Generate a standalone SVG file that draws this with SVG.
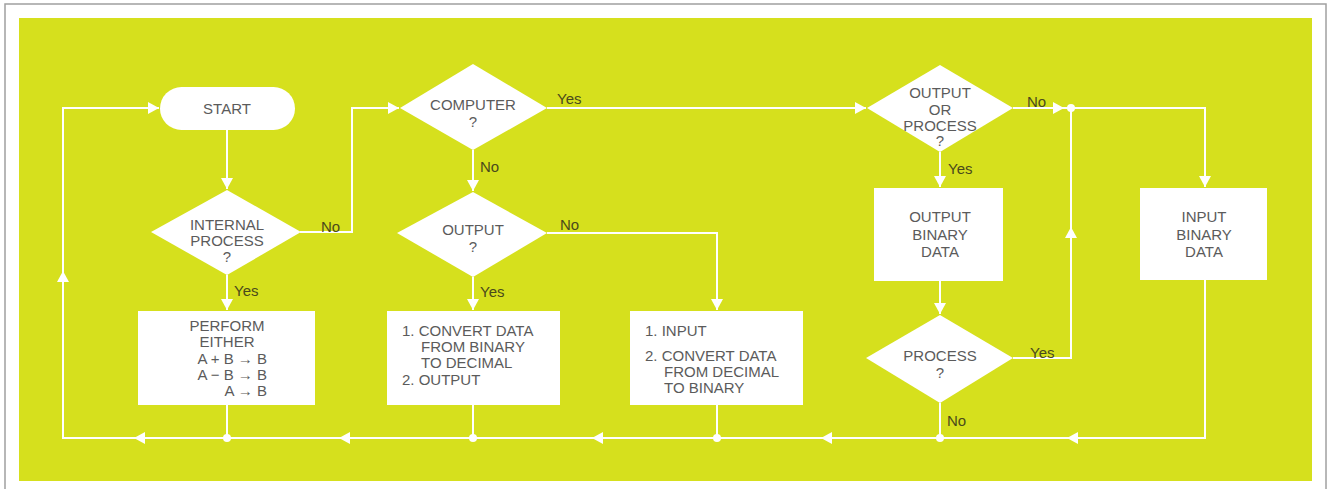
<svg xmlns="http://www.w3.org/2000/svg" width="1333" height="489" viewBox="0 0 1333 489">
<style>
.node{fill:#ffffff;}
.t{font-family:"Liberation Sans",Arial,sans-serif;font-size:15px;fill:#5b5b5b;text-anchor:middle;}
.tl{font-family:"Liberation Sans",Arial,sans-serif;font-size:15px;fill:#5b5b5b;}
.lab{font-family:"Liberation Sans",Arial,sans-serif;font-size:15px;fill:#4a4a1c;}
.c{fill:none;stroke:#ffffff;stroke-width:2;}
.dot{fill:#ffffff;}
</style>
<defs>
<marker id="ah" markerUnits="userSpaceOnUse" markerWidth="12" markerHeight="12" refX="11" refY="6" orient="auto">
<path d="M0,0 L11,6 L0,12 z" fill="#ffffff"/>
</marker>
</defs>
<rect x="0" y="0" width="1333" height="489" fill="#ffffff"/>
<rect x="5" y="4" width="1321" height="495" fill="none" stroke="#a0a0a0" stroke-width="1.5"/>
<rect x="19" y="18" width="1293" height="463" fill="#d6e01d"/>

<g id="connectors">
<path class="c" d="M227,130 V189" marker-end="url(#ah)"/>
<path class="c" d="M300,232 H352 V108 H399" marker-end="url(#ah)"/>
<path class="c" d="M547,108 H866" marker-end="url(#ah)"/>
<path class="c" d="M473,150 V191" marker-end="url(#ah)"/>
<path class="c" d="M547,233 H717 V310" marker-end="url(#ah)"/>
<path class="c" d="M473,277 V310" marker-end="url(#ah)"/>
<path class="c" d="M227,275 V310" marker-end="url(#ah)"/>
<path class="c" d="M1013,108 H1064" marker-end="url(#ah)"/>
<path class="c" d="M1064,108 H1205 V187" marker-end="url(#ah)"/>
<path class="c" d="M940,152 V187" marker-end="url(#ah)"/>
<path class="c" d="M940,281 V314" marker-end="url(#ah)"/>
<path class="c" d="M1013,358 H1071 V227" marker-end="url(#ah)"/>
<path class="c" d="M1071,228 V108"/>
<path class="c" d="M940,403 V438"/>
<path class="c" d="M1205,280 V438 H1067" marker-end="url(#ah)"/>
<path class="c" d="M1068,438 H821" marker-end="url(#ah)"/>
<path class="c" d="M822,438 H592" marker-end="url(#ah)"/>
<path class="c" d="M593,438 H339" marker-end="url(#ah)"/>
<path class="c" d="M340,438 H134" marker-end="url(#ah)"/>
<path class="c" d="M135,438 H63 V271" marker-end="url(#ah)"/>
<path class="c" d="M63,272 V108 H159" marker-end="url(#ah)"/>
<path class="c" d="M227,405 V438"/>
<path class="c" d="M473,405 V438"/>
<path class="c" d="M717,405 V438"/>
<circle class="dot" cx="227" cy="438" r="4"/>
<circle class="dot" cx="473" cy="438" r="4"/>
<circle class="dot" cx="717" cy="438" r="4"/>
<circle class="dot" cx="940" cy="438" r="4"/>
<circle class="dot" cx="1071" cy="108" r="4"/>
<text class="lab" x="321" y="232">No</text>
<text class="lab" x="557" y="104">Yes</text>
<text class="lab" x="480" y="172">No</text>
<text class="lab" x="560" y="230">No</text>
<text class="lab" x="480" y="297">Yes</text>
<text class="lab" x="234" y="296">Yes</text>
<text class="lab" x="1027" y="107">No</text>
<text class="lab" x="948" y="174">Yes</text>
<text class="lab" x="1030" y="358">Yes</text>
<text class="lab" x="947" y="426">No</text>
</g>

<g id="start">
<rect class="node" x="160" y="87" width="135" height="43" rx="21.5"/>
<text class="t" x="227" y="114">START</text>
</g>

<g id="internal-process">
<polygon class="node" points="227,190 301,232 227,275 151,232"/>
<text class="t" x="227" y="230">INTERNAL</text>
<text class="t" x="227" y="246">PROCESS</text>
<text class="t" x="227" y="262">?</text>
</g>

<g id="perform">
<rect class="node" x="138" y="311" width="177" height="94"/>
<text class="t" x="227" y="331">PERFORM</text>
<text class="t" x="227" y="347">EITHER</text>
<text class="tl" x="267" y="364" text-anchor="end">A + B → B</text>
<text class="tl" x="267" y="380" text-anchor="end">A − B → B</text>
<text class="tl" x="267" y="396" text-anchor="end">A → B</text>
</g>

<g id="computer">
<polygon class="node" points="473,64 547,108 473,150 400,108"/>
<text class="t" x="473" y="110">COMPUTER</text>
<text class="t" x="473" y="127">?</text>
</g>

<g id="output">
<polygon class="node" points="473,192 547,233 473,277 397,233"/>
<text class="t" x="473" y="235">OUTPUT</text>
<text class="t" x="473" y="252">?</text>
</g>

<g id="convert-output">
<rect class="node" x="387" y="311" width="173" height="94"/>
<text class="tl" x="402" y="336">1. CONVERT DATA</text>
<text class="tl" x="421" y="352">FROM BINARY</text>
<text class="tl" x="421" y="368">TO DECIMAL</text>
<text class="tl" x="402" y="385">2. OUTPUT</text>
</g>

<g id="input-convert">
<rect class="node" x="630" y="311" width="173" height="94"/>
<text class="tl" x="645" y="336">1. INPUT</text>
<text class="tl" x="645" y="361">2. CONVERT DATA</text>
<text class="tl" x="664" y="377">FROM DECIMAL</text>
<text class="tl" x="664" y="393">TO BINARY</text>
</g>

<g id="output-or-process">
<polygon class="node" points="940,65 1013,108 940,152 867,108"/>
<text class="t" x="940" y="98">OUTPUT</text>
<text class="t" x="940" y="115">OR</text>
<text class="t" x="940" y="131">PROCESS</text>
<text class="t" x="940" y="146">?</text>
</g>

<g id="output-binary">
<rect class="node" x="874" y="188" width="129" height="93"/>
<text class="t" x="940" y="222">OUTPUT</text>
<text class="t" x="940" y="240">BINARY</text>
<text class="t" x="940" y="257">DATA</text>
</g>

<g id="process">
<polygon class="node" points="940,315 1013,358 940,403 866,358"/>
<text class="t" x="940" y="361">PROCESS</text>
<text class="t" x="940" y="378">?</text>
</g>

<g id="input-binary">
<rect class="node" x="1140" y="188" width="127" height="92"/>
<text class="t" x="1204" y="222">INPUT</text>
<text class="t" x="1204" y="240">BINARY</text>
<text class="t" x="1204" y="257">DATA</text>
</g>
</svg>
